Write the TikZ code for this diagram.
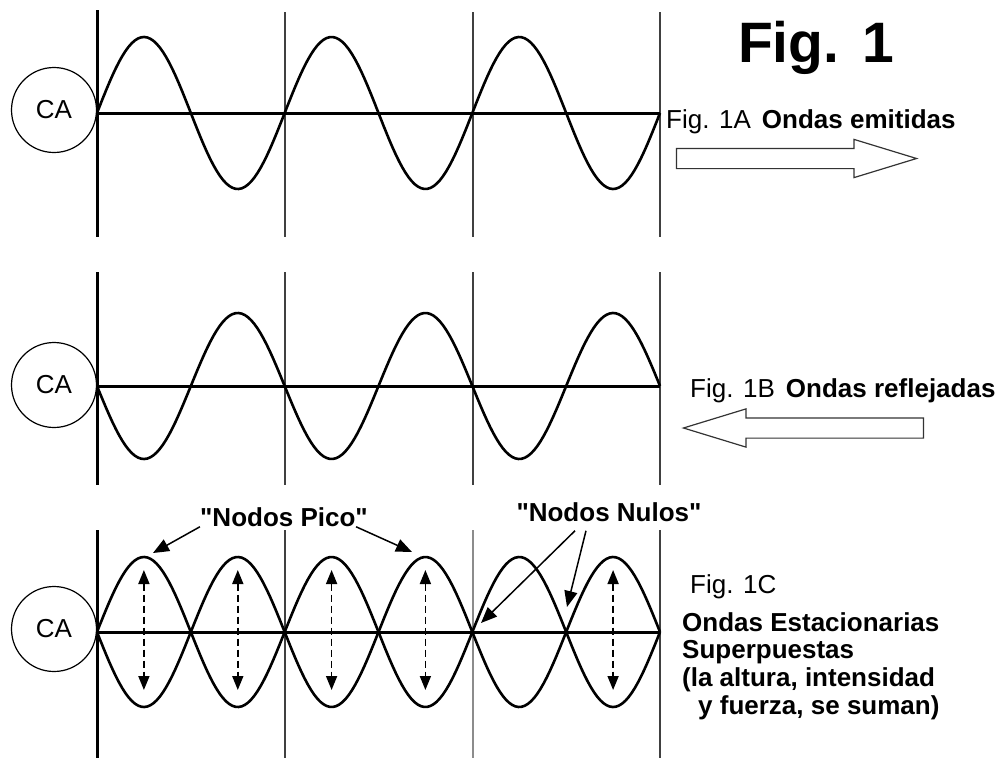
\documentclass[tikz,border=0pt]{standalone}
\usepackage{fontspec}
\setmainfont{Liberation Sans}
\usetikzlibrary{arrows.meta,positioning,calc,shapes.arrows}

\begin{document}
\begin{tikzpicture}[
    x=1pt,y=-1pt,
    src/.style={draw,circle,line width=1.2pt,minimum size=85pt,inner sep=0pt,
                font=\fontsize{26}{28}\selectfont},
    wave/.style={line width=2.6pt,line join=round},
    axisline/.style={line width=3pt},
    rule/.style={line width=1.3pt,black!75},
    rulethick/.style={line width=3pt},
    lbl/.style={inner sep=0pt,font=\fontsize{26}{27.7}\selectfont},
    ptr/.style={-{Triangle[length=16pt,width=13pt]},line width=1.5pt},
    swing/.style={{Triangle[length=14pt,width=11pt]}-{Triangle[length=14pt,width=11pt]},
                  line width=1.7pt,dash pattern=on 7pt off 4pt},
    hollow/.style={single arrow,draw=black!80,line width=1.2pt,minimum height=240pt,
                   minimum width=37pt,single arrow head extend=9pt,
                   single arrow tip angle=34,inner xsep=0pt,inner ysep=9.5pt}
  ]
  \useasboundingbox (0,0) rectangle (1005,758);

  % Fig. 1A: emitted wave
  \draw[rulethick] (97,10) -- (97,237);
  \foreach \x in {285,473,660} \draw[rule] (\x,12) -- (\x,237);
  \draw[axisline] (97,113) -- (660,113);
  \draw[wave] plot[domain=97:660,samples=180] (\x,{113-76*sin((\x-97)*1.91826)});
  \node[src,fill=white] (ca1) at (54,110) {CA};

  % Fig. 1B: reflected wave
  \draw[rulethick] (97,272) -- (97,485);
  \foreach \x in {285,473,660} \draw[rule] (\x,272) -- (\x,485);
  \draw[axisline] (97,386) -- (660,386);
  \draw[wave] plot[domain=97:660,samples=180] (\x,{386+73*sin((\x-97)*1.91826)});
  \node[src,fill=white] (ca2) at (54,385) {CA};

  % Fig. 1C: both together
  \draw[rulethick] (97,530) -- (97,758);
  \foreach \x in {285,660} \draw[rule] (\x,530) -- (\x,758);
  \draw[rule,black!45] (473,530) -- (473,758);
  \draw[axisline] (97,632) -- (660,632);
  \draw[wave] plot[domain=97:660,samples=180] (\x,{632-75*sin((\x-97)*1.91826)});
  \draw[wave] plot[domain=97:660,samples=180] (\x,{632+75*sin((\x-97)*1.91826)});
  \node[src,fill=white] (ca3) at (54,629) {CA};
  \foreach \x [count=\i] in {143.9,237.8,331.6,425.4,613.1} {
    \coordinate (hi\i) at (\x,570);
    \coordinate (lo\i) at (\x,690);
    \draw[swing] (hi\i) -- (lo\i);
  }

  % labels
  \node[lbl,anchor=base,font=\fontsize{57}{60}\selectfont\bfseries] (title) at (816,62) {Fig.\hspace{23pt}1};
  \node[lbl,anchor=base west] (tagA) at (666,128) {Fig. 1A\hspace{11pt}\textbf{Ondas emitidas}};
  \node[lbl,anchor=base west] (tagB) at (690,397) {Fig. 1B\hspace{11pt}\textbf{Ondas reflejadas}};
  \node[lbl,anchor=base west] (tagC) at (690,593) {Fig. 1C};
  \node[lbl,anchor=north west,align=left,font=\fontsize{26}{27.7}\selectfont\bfseries] (note) at (682,612)
    {Ondas Estacionarias\\Superpuestas\\(la altura, intensidad\\\hspace*{16pt}y fuerza, se suman)};

  \node[hollow] (emit) at (780,158.5) {};
  \node[hollow,shape border rotate=180] (refl) at (820,428) {};

  % pointers
  \node[lbl,font=\fontsize{26}{27.7}\selectfont\bfseries] (pico) at (284,517)
    {\textquotedbl Nodos Pico\textquotedbl};
  \coordinate (pk1) at (153,553);
  \coordinate (pk4) at (412,552);
  \draw[ptr] (pico.south west) -- (pk1);
  \draw[ptr] ($(pico.south east)+(-12,0)$) -- (pk4);

  \node[lbl,font=\fontsize{26}{27.7}\selectfont\bfseries] (nulos) at (609,512)
    {\textquotedbl Nodos Nulos\textquotedbl};
  \coordinate (nn1) at (481,623);
  \coordinate (nn2) at (567,607);
  \draw[ptr] ([xshift=-34pt,yshift=-9pt]nulos.south) -- (nn1);
  \draw[ptr] ([xshift=-23pt,yshift=-9pt]nulos.south) -- (nn2);
\end{tikzpicture}
\end{document}
